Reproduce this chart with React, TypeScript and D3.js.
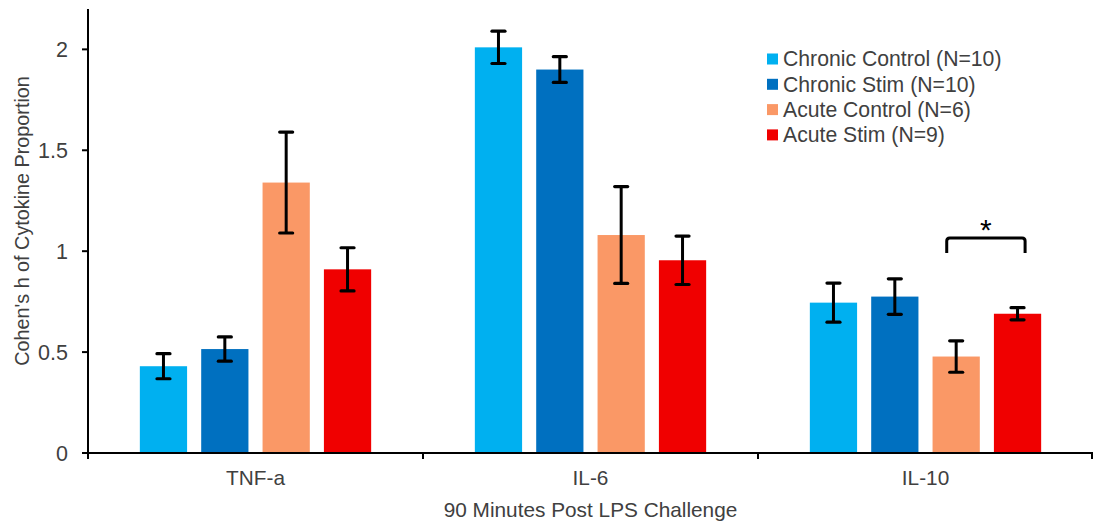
import React from "react";
import * as d3 from "d3";

const categories = ["TNF-a", "IL-6", "IL-10"];
const seriesNames = [
  "Chronic Control (N=10)",
  "Chronic Stim (N=10)",
  "Acute Control (N=6)",
  "Acute Stim (N=9)",
];
const seriesColors = ["#00B0F0", "#0070C0", "#FA9866", "#F00000"];
const chronicControl = [0.43, 2.01, 0.745];
const chronicControlErr = [0.062, 0.08, 0.097];
const chronicStim = [0.515, 1.9, 0.775];
const chronicStimErr = [0.06, 0.064, 0.088];
const acuteControl = [1.34, 1.08, 0.478];
const acuteControlErr = [0.25, 0.24, 0.078];
const acuteStim = [0.91, 0.955, 0.69];
const acuteStimErr = [0.107, 0.12, 0.03];
const yTicks = [0, 0.5, 1, 1.5, 2];
const yTickLabels = ["0", "0.5", "1", "1.5", "2"];

const values = [chronicControl, chronicStim, acuteControl, acuteStim];
const errors = [chronicControlErr, chronicStimErr, acuteControlErr, acuteStimErr];

const W = 1093;
const H = 523;
const left = 88;
const right = 1093;
const top = 9;
const bottom = 453;
const font = "'Liberation Sans', Arial, sans-serif";
const textColor = "#404040";

export default function App() {
  const y = d3.scaleLinear().domain([0, 2.2]).range([bottom, top]);
  const x0 = d3.scaleBand<string>().domain(categories).range([left, right]).padding(0);
  const x1 = d3
    .scaleBand<number>()
    .domain(d3.range(seriesNames.length))
    .range([0, x0.bandwidth()])
    .paddingInner(0.23)
    .paddingOuter(0.845);
  const bw = x1.bandwidth();
  const capW = 13;

  // bracket between acute control and acute stim of IL-10
  const bx = x0("IL-10")!;
  const bl = bx + x1(2)! + bw * 0.3;
  const br = bx + x1(3)! + bw * 0.66;
  const byTop = y(1.065);
  const byBot = byTop + 15;
  const r = 3;

  return (
    <svg
      width={W}
      height={H}
      style={{ position: "absolute", left: 0, top: 0, background: "#fff" }}
      fontFamily={font}
    >
      <rect x={0} y={0} width={W} height={H} fill="#fff" />
      {/* bars */}
      {categories.map((c, ci) => (
        <g key={c} transform={`translate(${x0(c)},0)`}>
          {values.map((vals, si) => {
            const v = vals[ci];
            const e = errors[si][ci];
            const xb = x1(si)!;
            const cx = xb + bw / 2;
            return (
              <g key={si}>
                <rect x={xb} y={y(v)} width={bw} height={y(0) - y(v)} fill={seriesColors[si]} />
                <line x1={cx} x2={cx} y1={y(v + e)} y2={y(v - e)} stroke="#000" strokeWidth={3} />
                <line x1={cx - capW / 2} x2={cx + capW / 2} y1={y(v + e)} y2={y(v + e)} stroke="#000" strokeWidth={3.2} strokeLinecap="round" />
                <line x1={cx - capW / 2} x2={cx + capW / 2} y1={y(v - e)} y2={y(v - e)} stroke="#000" strokeWidth={3.2} strokeLinecap="round" />
              </g>
            );
          })}
        </g>
      ))}

      {/* y axis */}
      <line x1={left} x2={left} y1={top} y2={bottom + 1} stroke="#000" strokeWidth={2} />
      {yTicks.map((t, i) => (
        <g key={t}>
          <line x1={left - 6} x2={left} y1={y(t)} y2={y(t)} stroke="#000" strokeWidth={2} />
          <text x={left - 20} y={y(t)} dy="0.35em" textAnchor="end" fontSize={21.5} fill={textColor}>
            {yTickLabels[i]}
          </text>
        </g>
      ))}
      <text
        transform={`translate(22, ${(top + bottom) / 2 - 10}) rotate(-90)`}
        textAnchor="middle"
        dy="0.35em"
        fontSize={19.8}
        fill={textColor}
      >
        Cohen's h of Cytokine Proportion
      </text>

      {/* x axis */}
      <line x1={left - 1} x2={right} y1={bottom} y2={bottom} stroke="#000" strokeWidth={2} />
      {[...categories.map((c) => x0(c)!), right - 1].map((t, i) => (
        <line key={i} x1={t} x2={t} y1={bottom} y2={bottom + 6} stroke="#000" strokeWidth={2} />
      ))}
      {categories.map((c) => (
        <text key={c} x={x0(c)! + x0.bandwidth() / 2} y={478} dy="0.35em" textAnchor="middle" fontSize={20.8} fill={textColor}>
          {c}
        </text>
      ))}
      <text x={(left + right) / 2} y={510} dy="0.35em" textAnchor="middle" fontSize={20.8} fill={textColor}>
        90 Minutes Post LPS Challenge
      </text>

      {/* bracket */}
      <path
        d={`M${bl},${byBot} L${bl},${byTop + r} Q${bl},${byTop} ${bl + r},${byTop} L${br - r},${byTop} Q${br},${byTop} ${br},${byTop + r} L${br},${byBot}`}
        fill="none"
        stroke="#000"
        strokeWidth={3}
      />
      <text x={(bl + br) / 2} y={byTop + 2} textAnchor="middle" fontSize={30} fill="#000">
        *
      </text>

      {/* legend */}
      {seriesNames.map((n, i) => (
        <g key={n} transform={`translate(767, ${59 + i * 25.3})`}>
          <rect x={0} y={-5.5} width={11} height={11} fill={seriesColors[i]} />
          <text x={16} y={0} dy="0.35em" fontSize={21.2} fill={textColor}>
            {n}
          </text>
        </g>
      ))}
    </svg>
  );
}
